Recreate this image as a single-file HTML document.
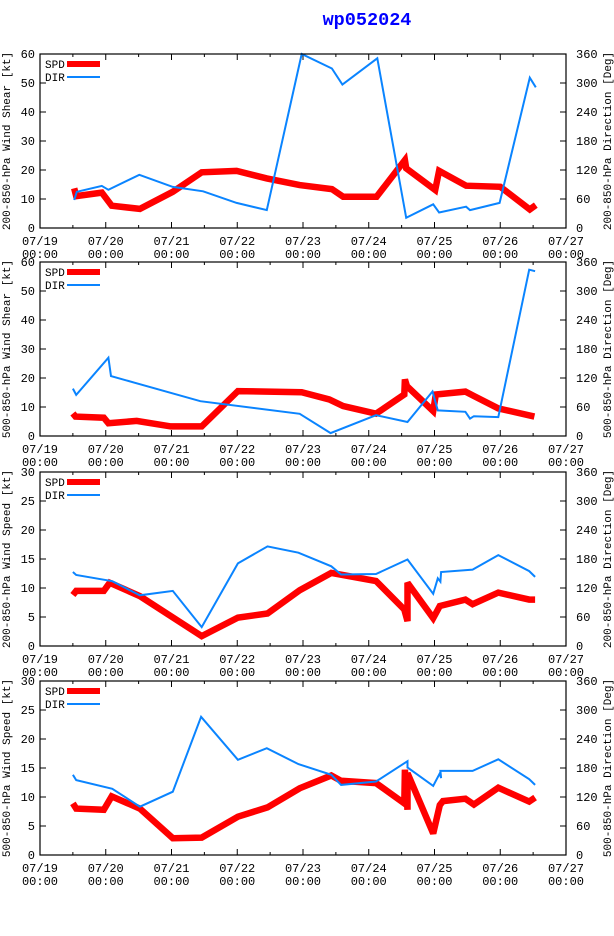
<!DOCTYPE html>
<html><head><meta charset="utf-8"><style>
html,body{margin:0;padding:0;background:#fff;}
svg{display:block;font-family:"Liberation Mono","DejaVu Sans Mono",monospace;}
</style></head><body>
<svg id="chart" width="614" height="936" viewBox="0 0 614 936">
<rect width="614" height="936" fill="#fff"/>
<text x="367" y="25" text-anchor="middle" font-size="18.5" font-weight="bold" fill="#0000ff">wp052024</text>
</svg>
<script>
// Panel 1: 200-850 hPa wind shear
const p1SpdT = [0.52,0.55,0.94,1.09,1.52,2.02,2.46,2.99,3.45,3.95,4.44,4.61,5.12,5.55,5.57,6.01,6.07,6.48,7.0,7.45,7.54];
const p1Spd  = [13.7,11,12.2,7.7,6.6,12.5,19.2,19.7,17.1,14.8,13.4,10.8,10.8,23.4,20.6,13.1,19.7,14.6,14.2,6.4,7.9];
const p1DirT = [0.52,0.56,0.94,1.04,1.51,2.02,2.48,2.99,3.45,3.98,4.44,4.60,5.13,5.57,5.98,6.07,6.48,6.54,6.99,7.45,7.54];
const p1Dir  = [58,75,87,79,110,85,76,52,37,360,330,297,351,21,49,32,44,37,52,311,291];
// Panel 2: 500-850 hPa wind shear
const p2SpdT = [0.50,0.54,0.97,1.04,1.47,1.99,2.46,3.01,3.98,4.40,4.61,5.11,5.54,5.55,5.58,5.98,6.02,6.47,6.60,6.97,7.52];
const p2Spd  = [7.8,6.7,6.3,4.4,5.2,3.3,3.3,15.5,15.1,12.6,10.3,7.7,14.3,19.5,17.2,8.6,14.3,15.3,13.8,9.5,6.7];
const p2DirT = [0.50,0.55,1.04,1.08,2.44,3.95,4.42,5.11,5.59,5.97,6.05,6.47,6.54,6.60,6.97,7.44,7.53];
const p2Dir  = [98,85,162,124,72,46,6,43,29,92,53,50,36,41,39,344,341];
// Panel 3: 200-850 hPa wind speed
const p3SpdT = [0.50,0.55,0.97,1.06,1.52,2.46,3.01,3.46,3.95,4.43,5.11,5.54,5.59,5.59,5.98,6.08,6.47,6.58,6.97,7.44,7.53];
const p3Spd  = [8.8,9.5,9.5,10.9,8.6,1.7,4.9,5.6,9.6,12.6,11.2,6.3,4.3,10.9,4.8,6.9,8.0,7.2,9.2,8.0,8.0];
const p3DirT = [0.50,0.55,1.10,1.52,2.02,2.46,3.01,3.46,3.93,4.43,4.58,5.11,5.59,5.98,6.05,6.09,6.10,6.58,6.97,7.44,7.53];
const p3Dir  = [153,147,134,105,114,39,171,206,193,165,148,149,179,108,140,133,153,158,188,155,143];
// Panel 4: 500-850 hPa wind speed
const p4SpdT = [0.50,0.55,0.97,1.09,1.52,2.02,2.46,3.01,3.46,3.95,4.43,4.58,5.11,5.54,5.55,5.59,5.59,5.98,6.08,6.13,6.47,6.60,6.97,7.44,7.53];
const p4Spd  = [8.9,8.0,7.8,10.1,8.0,2.9,3.0,6.6,8.2,11.5,13.7,12.8,12.4,8.9,14.7,7.8,14.1,3.7,8.6,9.3,9.7,8.7,11.6,9.2,9.9];
const p4DirT = [0.50,0.55,1.10,1.52,2.02,2.45,3.01,3.45,3.93,4.43,4.58,5.11,5.59,5.59,5.98,6.08,6.10,6.09,6.58,6.97,7.44,7.53];
const p4Dir  = [166,155,137,100,131,286,197,221,188,166,145,152,194,181,143,169,159,174,174,198,157,145];

const xTickDates = ["07/19","07/20","07/21","07/22","07/23","07/24","07/25","07/26","07/27"];
const leftTicks60 = [0,10,20,30,40,50,60];
const leftTicks30 = [0,5,10,15,20,25,30];
const rightTicks = [0,60,120,180,240,300,360];

const svg = document.getElementById('chart');
const NS = 'http://www.w3.org/2000/svg';
const X0 = 40, X1 = 566, H = 174;
function mk(tag, attrs, parent){ const e=document.createElementNS(NS,tag); for(const k in attrs) e.setAttribute(k,attrs[k]); (parent||svg).appendChild(e); return e; }
function xs(t){ return X0 + t*(X1-X0)/8; }

const panels = [
 {top:54, ymax:60, ticks:leftTicks60, spdT:p1SpdT, spd:p1Spd, dirT:p1DirT, dir:p1Dir, lt:"200-850-hPa Wind Shear [kt]", rt:"200-850-hPa Direction [Deg]", name:"panel-200-850-shear"},
 {top:262, ymax:60, ticks:leftTicks60, spdT:p2SpdT, spd:p2Spd, dirT:p2DirT, dir:p2Dir, lt:"500-850-hPa Wind Shear [kt]", rt:"500-850-hPa Direction [Deg]", name:"panel-500-850-shear"},
 {top:472, ymax:30, ticks:leftTicks30, spdT:p3SpdT, spd:p3Spd, dirT:p3DirT, dir:p3Dir, lt:"200-850-hPa Wind Speed [kt]", rt:"200-850-hPa Direction [Deg]", name:"panel-200-850-speed"},
 {top:681, ymax:30, ticks:leftTicks30, spdT:p4SpdT, spd:p4Spd, dirT:p4DirT, dir:p4Dir, lt:"500-850-hPa Wind Speed [kt]", rt:"500-850-hPa Direction [Deg]", name:"panel-500-850-speed"}
];

panels.forEach(p=>{
  const g = mk('g',{});
  
  
  const top=p.top, bot=top+H;
  const ys = v => bot - v/p.ymax*H;
  const yd = v => bot - v/360*H;
  for(let i=0;i<=16;i++){
    const x=xs(i/2), L=(i%2===0)?6:3;
    mk('line',{x1:x,y1:bot,x2:x,y2:bot-L,stroke:'#000'},g);
    mk('line',{x1:x,y1:top,x2:x,y2:top+L,stroke:'#000'},g);
  }
  xTickDates.forEach((d,i)=>{
    const x=xs(i);
    const t1=mk('text',{x:x,y:bot+17,'text-anchor':'middle','font-size':12},g); t1.textContent=d;
    
    
    const t2=mk('text',{x:x,y:bot+30,'text-anchor':'middle','font-size':12},g); t2.textContent="00:00";
    
    
  });
  p.ticks.forEach(v=>{
    const y=ys(v);
    mk('line',{x1:X0,y1:y,x2:X0+6,y2:y,stroke:'#000'},g);
    const t=mk('text',{x:35,y:y+4,'text-anchor':'end','font-size':12},g); t.textContent=v;
    
    
  });
  rightTicks.forEach(v=>{
    const y=yd(v);
    mk('line',{x1:X1,y1:y,x2:X1-6,y2:y,stroke:'#000'},g);
    const t=mk('text',{x:576,y:y+4,'text-anchor':'start','font-size':12},g); t.textContent=v;
    
    
  });
  const cy=top+H/2;
  const lt=mk('text',{x:0,y:0,'text-anchor':'middle','font-size':11,transform:`translate(10,${cy}) rotate(-90)`},g); lt.textContent=p.lt;
  
  
  const rt=mk('text',{x:0,y:0,'text-anchor':'middle','font-size':11,transform:`translate(611,${cy}) rotate(-90)`},g); rt.textContent=p.rt;
  
  
  const sp = p.spdT.map((t,i)=>xs(t).toFixed(1)+','+ys(p.spd[i]).toFixed(1)).join(' ');
  const spl=mk('polyline',{points:sp,fill:'none',stroke:'#ff0000','stroke-width':6.5,'stroke-linejoin':'miter','stroke-miterlimit':3},g);
  
  
  const dp = p.dirT.map((t,i)=>xs(t).toFixed(1)+','+yd(p.dir[i]).toFixed(1)).join(' ');
  const dpl=mk('polyline',{points:dp,fill:'none',stroke:'#0a84ff','stroke-width':2},g);
  
  
  const l1=mk('text',{x:45,y:top+14,'font-size':11},g); l1.textContent='SPD';
  
  
  mk('line',{x1:67,y1:top+10,x2:100,y2:top+10,stroke:'#ff0000','stroke-width':6},g);
  const l2=mk('text',{x:45,y:top+27,'font-size':11},g); l2.textContent='DIR';
  
  
  mk('line',{x1:67,y1:top+23,x2:100,y2:top+23,stroke:'#0a84ff','stroke-width':2},g);
  mk('rect',{x:X0,y:top,width:X1-X0,height:H,fill:'none',stroke:'#000','stroke-width':1.2},g);
});
</script>
</body></html>
